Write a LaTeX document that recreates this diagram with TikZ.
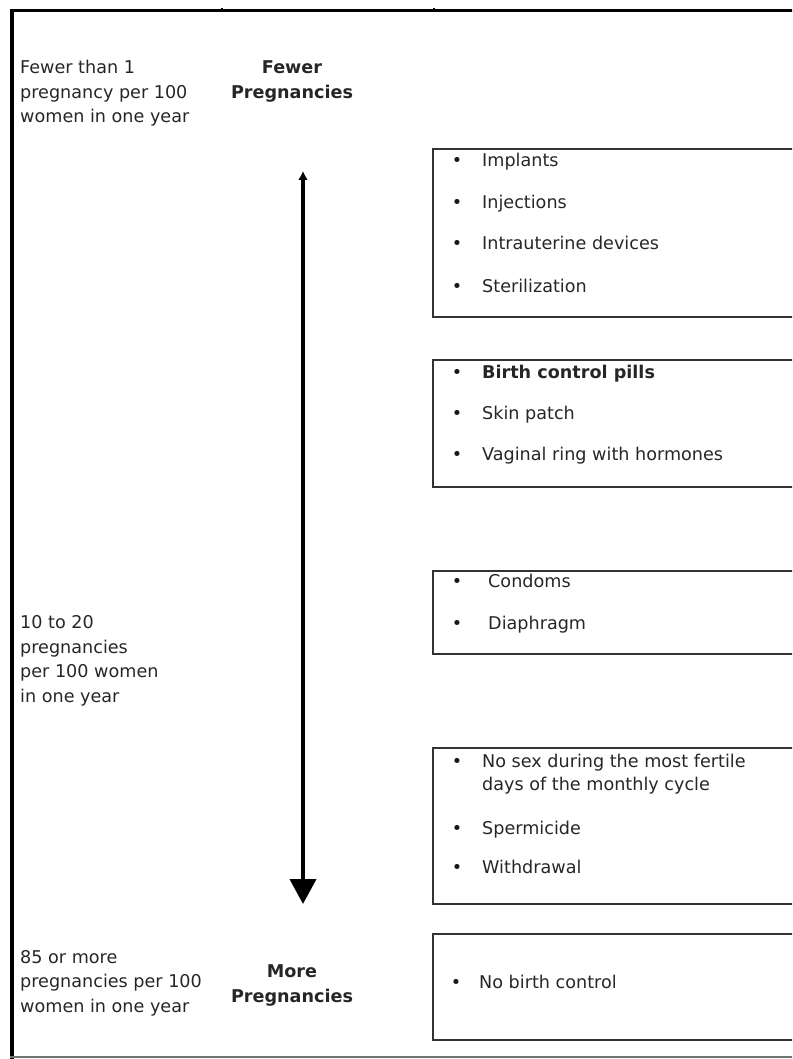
\documentclass[tikz,border=0pt]{standalone}
\usepackage{fontspec}
\setmainfont{DejaVu Sans}
\usetikzlibrary{arrows.meta}
\begin{document}
\begin{tikzpicture}[x=1pt,y=-1pt,
  font=\fontsize{17.6}{24.5}\selectfont,
  txt/.style={anchor=base west, inner sep=0pt, align=left, text=black!85},
  hd/.style={anchor=base, inner sep=0pt, align=center, text=black!85,
             font=\fontsize{17.6}{25}\selectfont\bfseries},
  bul/.style={anchor=base, inner sep=0pt, text=black!90},
  listbox/.style={draw=black!80, line width=1.6pt, inner sep=0pt},
  frame/.style={line width=3pt, black}]
\useasboundingbox (0,0) rectangle (792,1059);
\clip (0,0) rectangle (792,1059);

% frame
\coordinate (tl) at (12,11);
\coordinate (tr) at (800,11);
\coordinate (bl) at (12,1062);
\draw[frame] (tr) -- (tl);
\draw[line width=4pt] (12,9.5) -- (bl);
\draw[black!55, line width=1.5pt] (10,1057) -- (800,1057);
\draw[line width=1.5pt] (222,8) -- (222,12);
\draw[line width=1.5pt] (434,8) -- (434,12);

% left column texts (anchored at the baseline of the last line)
\node[txt] (t1) at (20,123) {Fewer than 1\\pregnancy per 100\\women in one year};
\node[txt] (t2) at (20,702) {10 to 20\\pregnancies\\per 100 women\\in one year};
\node[txt] (t3) at (20,1012) {85 or more\\pregnancies per 100\\women in one year};

% headings
\node[hd] (fewer) at (292,99) {Fewer\\Pregnancies};
\node[hd] (more) at (292,1002) {More\\Pregnancies};

% arrow
\coordinate (atop) at (303,171);
\coordinate (abot) at (303,904);
\draw[line width=4pt, {Latex[length=9pt,width=10pt]}-{Triangle[length=25pt,width=26pt]}] (atop) -- (abot);

% boxes
\node[listbox, minimum width=370pt, minimum height=168pt, anchor=north west] (b1) at (432,148) {};
\node[listbox, minimum width=370pt, minimum height=127pt, anchor=north west] (b2) at (432,359) {};
\node[listbox, minimum width=370pt, minimum height=83pt, anchor=north west] (b3) at (432,570) {};
\node[listbox, minimum width=370pt, minimum height=156pt, anchor=north west] (b4) at (432,747) {};
\node[listbox, minimum width=370pt, minimum height=106pt, anchor=north west] (b5) at (432,933) {};

% box 1
\node[bul] (b1a) at (457,167) {•};
\node[txt] (i1a) at (482,167) {Implants};
\node[bul] (b1b) at (457,209) {•};
\node[txt] (i1b) at (482,209) {Injections};
\node[bul] (b1c) at (457,250) {•};
\node[txt] (i1c) at (482,250) {Intrauterine devices};
\node[bul] (b1d) at (457,292) {•};
\node[txt] (i1d) at (482,292) {Sterilization};

% box 2
\node[bul] (b2a) at (457,378) {•};
\node[txt, font=\fontsize{17.6}{24.5}\selectfont\bfseries] (i2a) at (482,378) {Birth control pills};
\node[bul] (b2b) at (457,419) {•};
\node[txt] (i2b) at (482,419) {Skin patch};
\node[bul] (b2c) at (457,460) {•};
\node[txt] (i2c) at (482,460) {Vaginal ring with hormones};

% box 3
\node[bul] (b3a) at (457,587) {•};
\node[txt] (i3a) at (488,587) {Condoms};
\node[bul] (b3b) at (457,629) {•};
\node[txt] (i3b) at (488,629) {Diaphragm};

% box 4
\node[bul] (b4a) at (457,767) {•};
\node[txt, font=\fontsize{17.6}{23}\selectfont] (i4a) at (482,790) {No sex during the most fertile\\days of the monthly cycle};
\node[bul] (b4b) at (457,834) {•};
\node[txt] (i4b) at (482,834) {Spermicide};
\node[bul] (b4c) at (457,873) {•};
\node[txt] (i4c) at (482,873) {Withdrawal};

% box 5
\node[bul] (b5a) at (456,988) {•};
\node[txt] (i5a) at (479,988) {No birth control};
\end{tikzpicture}
\end{document}
